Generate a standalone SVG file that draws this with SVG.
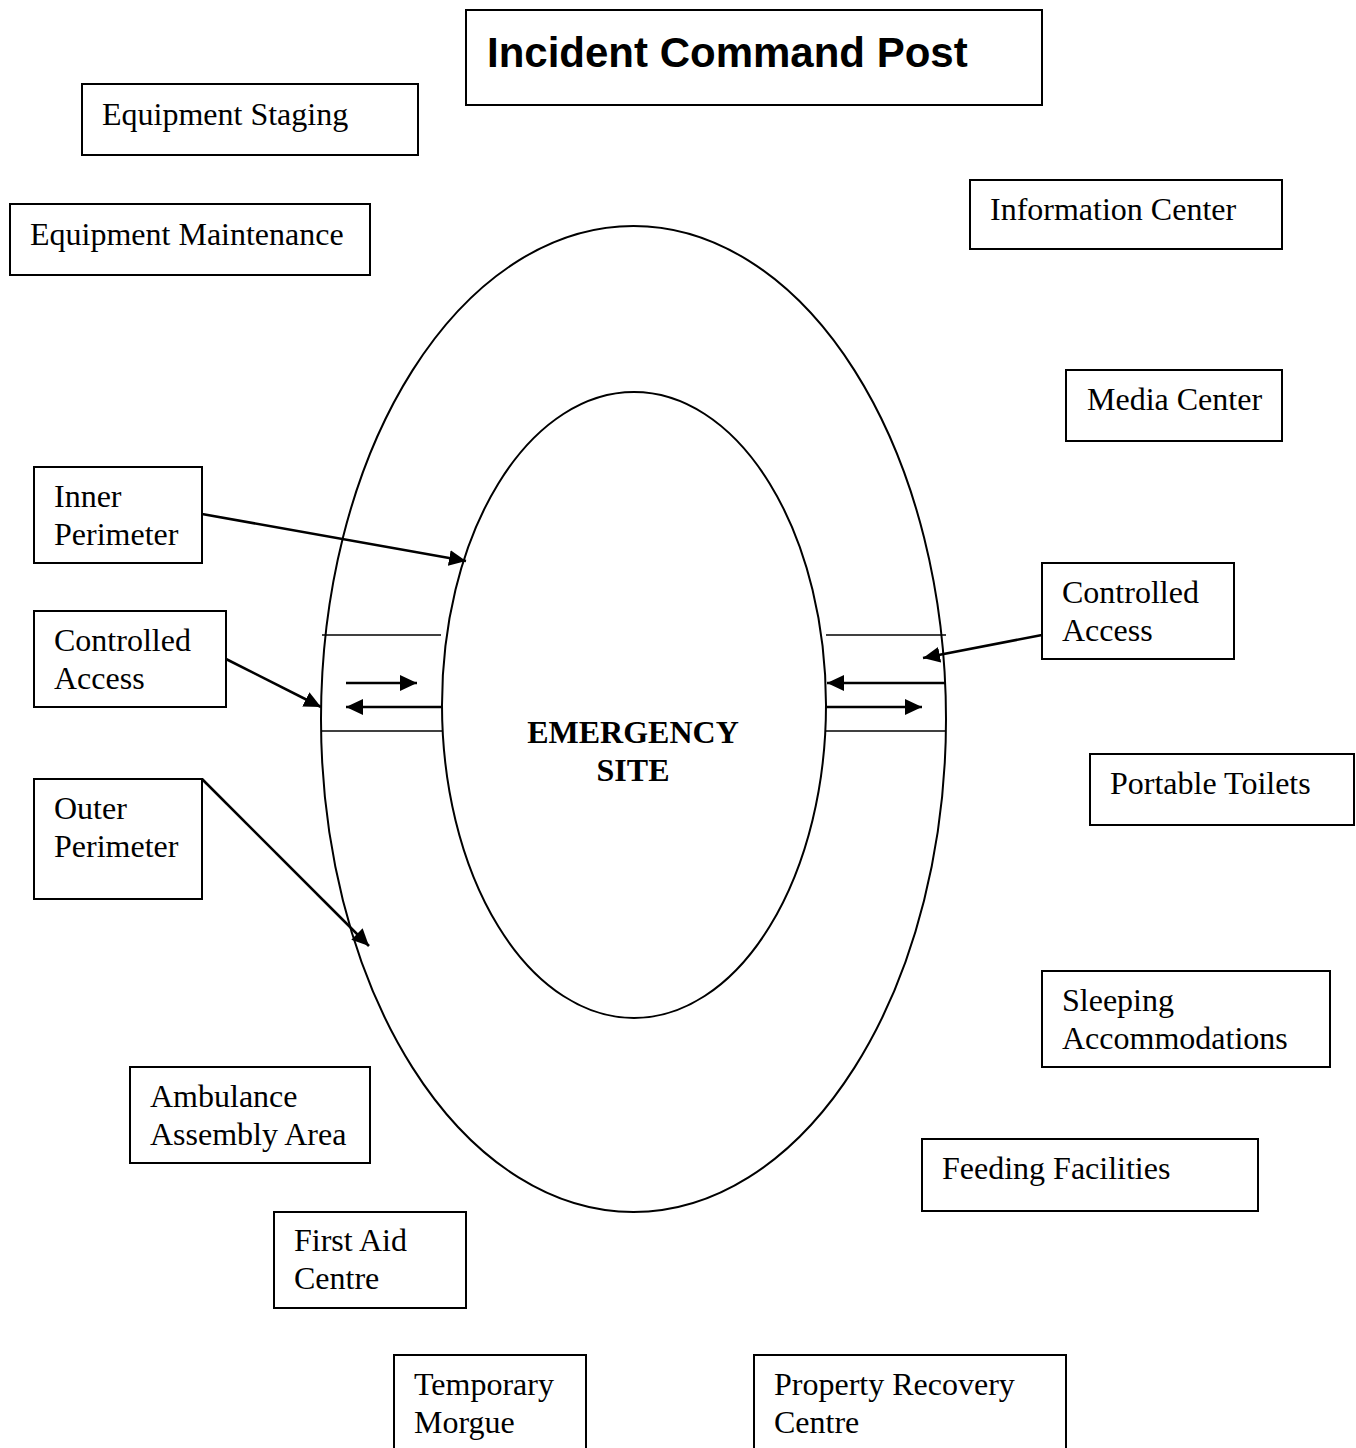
<svg xmlns="http://www.w3.org/2000/svg" width="1356" height="1448" viewBox="0 0 1356 1448">
<style>
.box{fill:#fff;stroke:#000;stroke-width:2}
.t{font-family:"Liberation Serif","Times New Roman",serif;font-size:32px;fill:#000}
.tb{font-family:"Liberation Serif","Times New Roman",serif;font-size:32px;font-weight:bold;fill:#000}
.h{font-family:"Liberation Sans",Arial,sans-serif;font-size:42px;font-weight:bold;fill:#000}
.ring{fill:none;stroke:#000;stroke-width:2}
.band{stroke:#000;stroke-width:1.6;fill:none}
.arr{stroke:#000;stroke-width:2.6;fill:none;marker-end:url(#ah)}
</style>
<defs>
<marker id="ah" markerUnits="userSpaceOnUse" markerWidth="18" markerHeight="16" refX="17" refY="8" orient="auto">
<path d="M0,0 L17,8 L0,16 z" fill="#000"/>
</marker>
</defs>
<rect width="1356" height="1448" fill="#fff"/>
<g id="outer-perimeter-ring"><ellipse class="ring" cx="633.5" cy="719" rx="312.5" ry="493"/></g>
<g id="emergency-site">
<ellipse class="ring" cx="634" cy="705" rx="192" ry="313"/>
<text class="tb" x="633" y="743" text-anchor="middle">EMERGENCY</text>
<text class="tb" x="633" y="781" text-anchor="middle">SITE</text>
</g>
<g id="access-bands">
<line class="band" x1="322" y1="635" x2="441" y2="635"/>
<line class="band" x1="322" y1="731" x2="442" y2="731"/>
<line class="band" x1="826" y1="635" x2="946" y2="635"/>
<line class="band" x1="826" y1="731" x2="946" y2="731"/>
</g>
<g id="icp"><rect class="box" x="466" y="10" width="576" height="95"/><text class="h" x="487" y="67">Incident Command Post</text></g>
<g id="equipment-staging"><rect class="box" x="82" y="84" width="336" height="71"/><text class="t" x="102" y="125">Equipment Staging</text></g>
<g id="equipment-maintenance"><rect class="box" x="10" y="204" width="360" height="71"/><text class="t" x="30" y="245">Equipment Maintenance</text></g>
<g id="information-center"><rect class="box" x="970" y="180" width="312" height="69"/><text class="t" x="990" y="220">Information Center</text></g>
<g id="media-center"><rect class="box" x="1066" y="370" width="216" height="71"/><text class="t" x="1087" y="410">Media Center</text></g>
<g id="inner-perimeter"><rect class="box" x="34" y="467" width="168" height="96"/><text class="t" x="54" y="507">Inner</text><text class="t" x="54" y="545">Perimeter</text></g>
<g id="controlled-access-left"><rect class="box" x="34" y="611" width="192" height="96"/><text class="t" x="54" y="651">Controlled</text><text class="t" x="54" y="689">Access</text></g>
<g id="controlled-access-right"><rect class="box" x="1042" y="563" width="192" height="96"/><text class="t" x="1062" y="603">Controlled</text><text class="t" x="1062" y="641">Access</text></g>
<g id="portable-toilets"><rect class="box" x="1090" y="754" width="264" height="71"/><text class="t" x="1110" y="794">Portable Toilets</text></g>
<g id="outer-perimeter"><rect class="box" x="34" y="779" width="168" height="120"/><text class="t" x="54" y="819">Outer</text><text class="t" x="54" y="857">Perimeter</text></g>
<g id="sleeping-accommodations"><rect class="box" x="1042" y="971" width="288" height="96"/><text class="t" x="1062" y="1011">Sleeping</text><text class="t" x="1062" y="1049">Accommodations</text></g>
<g id="ambulance-assembly-area"><rect class="box" x="130" y="1067" width="240" height="96"/><text class="t" x="150" y="1107">Ambulance</text><text class="t" x="150" y="1145">Assembly Area</text></g>
<g id="feeding-facilities"><rect class="box" x="922" y="1139" width="336" height="72"/><text class="t" x="942" y="1179">Feeding Facilities</text></g>
<g id="first-aid-centre"><rect class="box" x="274" y="1212" width="192" height="96"/><text class="t" x="294" y="1251">First Aid</text><text class="t" x="294" y="1289">Centre</text></g>
<g id="temporary-morgue"><rect class="box" x="394" y="1355" width="192" height="110"/><text class="t" x="414" y="1395">Temporary</text><text class="t" x="414" y="1433">Morgue</text></g>
<g id="property-recovery-centre"><rect class="box" x="754" y="1355" width="312" height="110"/><text class="t" x="774" y="1395">Property Recovery</text><text class="t" x="774" y="1433">Centre</text></g>
<g id="connectors">
<line class="arr" x1="202" y1="514" x2="466" y2="561"/>
<line class="arr" x1="226" y1="659" x2="321" y2="707"/>
<line class="arr" x1="202" y1="779" x2="369" y2="946"/>
<line class="arr" x1="1042" y1="635" x2="923" y2="658"/>
<line class="arr" x1="346" y1="683" x2="417" y2="683"/>
<line class="arr" x1="442" y1="707" x2="346" y2="707"/>
<line class="arr" x1="945" y1="683" x2="827" y2="683"/>
<line class="arr" x1="826" y1="707" x2="922" y2="707"/>
</g>
</svg>
